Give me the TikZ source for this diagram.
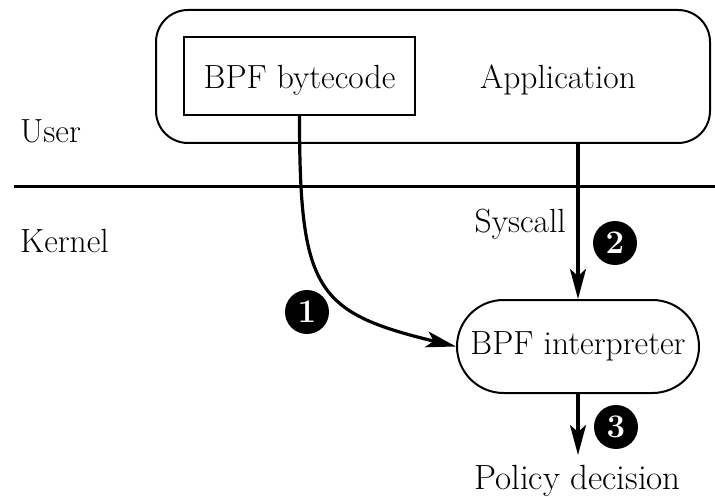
\documentclass[tikz,border=0pt]{standalone}
\usetikzlibrary{arrows.meta}
\begin{document}
\begin{tikzpicture}[x=1pt, y=-1pt,
  txt/.style={font=\fontsize{33.5}{38}\selectfont, inner sep=0pt},
  thinbox/.style={draw, line width=2pt, inner sep=0pt},
  flow/.style={line width=3.2pt, -{Stealth[length=30pt, width=16pt, inset=7pt]}},
  badge/.style={circle, fill=black, text=white, inner sep=0pt, minimum size=44pt,
    font=\fontsize{33}{33}\selectfont\bfseries}]
\useasboundingbox (0,0) rectangle (715,497);

% user-space application with the embedded filter program
\node[thinbox, rounded corners=32pt, minimum width=554pt, minimum height=133pt] (app) at (433,76.5) {};
\node[thinbox, minimum width=231pt, minimum height=78pt] (bytecode) at (299.5,76) {};
\node[txt, anchor=base] (bctext) at (299.5,89) {BPF bytecode};
\node[txt, anchor=base] (apptext) at (558,89) {Application};

% user / kernel boundary
\coordinate (sepL) at (14,187);
\coordinate (sepR) at (715,187);
\draw[line width=3pt] (sepL) -- (sepR);
\node[txt, anchor=base west] (user) at (20,143) {User};
\node[txt, anchor=base west] (kernel) at (20,252) {Kernel};

% kernel-side interpreter and its output
\node[thinbox, rounded corners=46.5pt, minimum width=242pt, minimum height=93pt] (interp) at (578,346.5) {};
\node[txt] (interptext) at (578,346.5) {BPF interpreter};
\node[txt, anchor=base, font=\fontsize{35}{40}\selectfont] (policy) at (577.5,489) {Policy decision};

% connectors
\draw[flow] (bytecode.south) .. controls +(0,175) and +(-140,-34) .. (interp.west);
\draw[flow] (app.south -| interp.north) -- (interp.north);
\coordinate (polTop) at (578,455);
\draw[flow] (interp.south) -- (polTop);
\node[txt, anchor=base east] (syscall) at (566,233) {Syscall};

% step markers
\node[badge] (s1) at (307,312) {1};
\node[badge] (s2) at (615,243) {2};
\node[badge] (s3) at (616,427) {3};
\end{tikzpicture}
\end{document}
